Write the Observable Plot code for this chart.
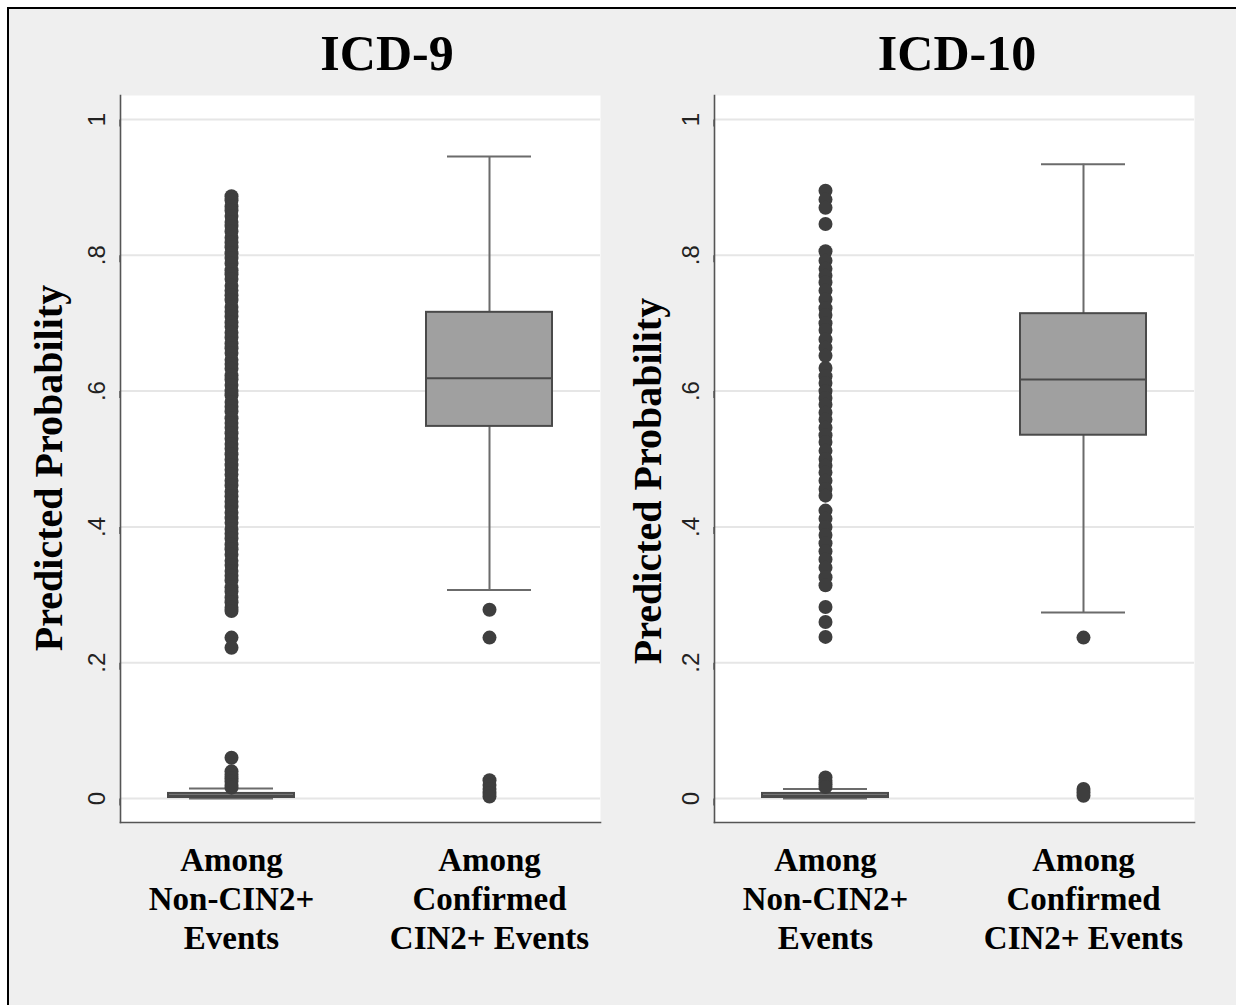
<!DOCTYPE html>
<html>
<head>
<meta charset="utf-8">
<script src="https://cdn.jsdelivr.net/npm/d3@7"></script>
<script src="https://cdn.jsdelivr.net/npm/@observablehq/plot@0.6"></script>
<style>
  html, body { margin: 0; padding: 0; background: #fff; }
  #page { position: relative; width: 1236px; height: 1005px; overflow: hidden; background: #fff; }
  #frame { position: absolute; left: 7px; top: 7px; width: 1260px; height: 1030px;
           border-left: 2px solid #000; border-top: 2px solid #000; background: #efefef; box-sizing: border-box; }
  .panel { position: absolute; top: 0; }
  .title { position: absolute; top: 28px; width: 400px; margin-left: -200px; text-align: center;
           font-family: "Liberation Serif", "Times New Roman", serif; font-weight: bold; font-size: 50px; line-height: 50px; color: #000; }
</style>
</head>
<body>
<div id="page">
  <div id="frame"></div>
</div>
<script>
// ---- data ----
const panelTitles = ["ICD-9", "ICD-10"];
const categories = ["Among Non-CIN2+ Events", "Among Confirmed CIN2+ Events"];
const categoryLabels = ["Among\nNon-CIN2+\nEvents", "Among\nConfirmed\nCIN2+ Events"];
const yTicks = [0, 0.2, 0.4, 0.6, 0.8, 1];
const yTickLabels = ["0", ".2", ".4", ".6", ".8", "1"];
const yLabel = "Predicted Probability";

// ICD-9 box statistics [Non-CIN2+, CIN2+]
const icd9LowerAdj = [0.0, 0.307];
const icd9Q1 = [0.0015, 0.548];
const icd9Median = [0.0045, 0.619];
const icd9Q3 = [0.0075, 0.716];
const icd9UpperAdj = [0.0147, 0.9455];
// ICD-9 outside values
const icd9OutsideNon = [0.887, 0.881, 0.872, 0.866, 0.858, 0.849, 0.843, 0.835, 0.826, 0.819, 0.812, 0.803,
  0.796, 0.788, 0.778, 0.772, 0.765, 0.755, 0.748, 0.741, 0.734, 0.724, 0.717, 0.71, 0.701, 0.695, 0.686,
  0.679, 0.67, 0.663, 0.656, 0.646, 0.64, 0.633, 0.623, 0.617, 0.609, 0.6, 0.594, 0.584, 0.577, 0.57,
  0.56, 0.553, 0.546, 0.538, 0.53, 0.522, 0.515, 0.507, 0.499, 0.491, 0.484, 0.477, 0.468, 0.461, 0.452,
  0.445, 0.437, 0.43, 0.421, 0.413, 0.406, 0.397, 0.39, 0.383, 0.374, 0.367, 0.359, 0.35, 0.344, 0.335,
  0.328, 0.321, 0.311, 0.305, 0.296, 0.289, 0.281, 0.276, 0.237, 0.222,
  0.06, 0.04, 0.035, 0.03, 0.025, 0.02, 0.016];
const icd9OutsideCin = [0.278, 0.237, 0.027, 0.02, 0.014, 0.008, 0.003];

// ICD-10 box statistics [Non-CIN2+, CIN2+]
const icd10LowerAdj = [0.0, 0.274];
const icd10Q1 = [0.0015, 0.535];
const icd10Median = [0.0045, 0.617];
const icd10Q3 = [0.0075, 0.714];
const icd10UpperAdj = [0.014, 0.934];
// ICD-10 outside values
const icd10OutsideNon = [0.895, 0.882, 0.87, 0.846, 0.806, 0.792, 0.78, 0.77, 0.76, 0.748, 0.735, 0.722,
  0.712, 0.7, 0.69, 0.676, 0.664, 0.652, 0.634, 0.622, 0.612, 0.6, 0.59, 0.58, 0.568, 0.558, 0.546,
  0.535, 0.525, 0.512, 0.5, 0.49, 0.48, 0.468, 0.456, 0.446, 0.424, 0.412, 0.4, 0.388, 0.376, 0.364,
  0.352, 0.34, 0.326, 0.314, 0.282, 0.26, 0.238,
  0.031, 0.026, 0.021, 0.017];
const icd10OutsideCin = [0.237, 0.014, 0.009, 0.004];

// ---- helpers ----
function boxTable(lo, q1, med, q3, hi) {
  return categories.map((c, i) => ({cat: c, lo: lo[i], q1: q1[i], med: med[i], q3: q3[i], hi: hi[i]}));
}
function outTable(non, cin) {
  return non.map(v => ({cat: categories[0], v})).concat(cin.map(v => ({cat: categories[1], v})));
}

const W = 618, H = 1000;
const serif = "'Liberation Serif', 'Times New Roman', serif";
const sans = "'Liberation Sans', Arial, Helvetica, sans-serif";

function makePanel(boxes, outs, labelOffset, labelShift) {
  const svg = Plot.plot({
    width: W, height: H,
    marginLeft: 120, marginRight: 18, marginTop: 95, marginBottom: 178,
    style: {background: "transparent", overflow: "visible", color: "#111"},
    x: {type: "band", domain: categories, paddingInner: 0.5135, paddingOuter: 0.1834, axis: null},
    y: {domain: [-0.0353, 1.0353], axis: null},
    marks: [
      Plot.frame({fill: "white", stroke: null}),
      Plot.gridY(yTicks, {stroke: "#e6e6e6", strokeOpacity: 1, strokeWidth: 2}),
      Plot.frame({anchor: "left", stroke: "#555", strokeWidth: 1.6}),
      Plot.frame({anchor: "bottom", stroke: "#555", strokeWidth: 1.6}),
      Plot.axisY({ticks: yTicks, tickFormat: d => yTickLabels[yTicks.indexOf(d)],
        tickSize: 7, tickPadding: 16, rotate: -90, textAnchor: "middle", lineAnchor: "middle",
        fontSize: 24, fontFamily: sans, stroke: "#555", strokeWidth: 1.4, fill: "#222", label: null}),
      Plot.axisY({ticks: [], tickSize: 0, label: yLabel, labelAnchor: "center", labelArrow: "none",
        labelOffset: labelOffset, fontSize: 40, fontWeight: "bold", fontFamily: serif, fill: "#000"}),
      Plot.axisX({tickSize: 0, tickPadding: 21, tickFormat: d => categoryLabels[categories.indexOf(d)],
        lineAnchor: "top", lineHeight: 1.18, fontSize: 33, fontWeight: "bold", fontFamily: serif, fill: "#000", label: null}),
      Plot.ruleX(boxes, {x: "cat", y1: "lo", y2: "hi", stroke: "#6b6b6b", strokeWidth: 2}),
      Plot.tickY(boxes, {x: "cat", y: "lo", insetLeft: 21, insetRight: 21, stroke: "#6b6b6b", strokeWidth: 2}),
      Plot.tickY(boxes, {x: "cat", y: "hi", insetLeft: 21, insetRight: 21, stroke: "#6b6b6b", strokeWidth: 2}),
      Plot.barY(boxes, {x: "cat", y1: "q1", y2: "q3", fill: "#a0a0a0", stroke: "#4a4a4a", strokeWidth: 2}),
      Plot.tickY(boxes, {x: "cat", y: "med", stroke: "#4a4a4a", strokeWidth: 2}),
      Plot.dot(outs, {x: "cat", y: "v", r: 7, fill: "#3e3e3e", stroke: null})
    ]
  });
  // nudge the axis title along the axis to match the reference placement
  const lab = svg.querySelector('g[aria-label="y-axis label"]');
  if (lab) {
    const prev = lab.getAttribute("transform") || "";
    lab.setAttribute("transform", `translate(0,${labelShift}) ${prev}`);
  }
  return svg;
}

const page = document.getElementById("page");
const panels = [
  makePanel(boxTable(icd9LowerAdj, icd9Q1, icd9Median, icd9Q3, icd9UpperAdj), outTable(icd9OutsideNon, icd9OutsideCin), 87, 9),
  makePanel(boxTable(icd10LowerAdj, icd10Q1, icd10Median, icd10Q3, icd10UpperAdj), outTable(icd10OutsideNon, icd10OutsideCin), 82, 22)
];
const lefts = [0, 594];
const titleCenters = [387, 957];
panels.forEach((svg, i) => {
  svg.classList.add("panel");
  svg.style.left = lefts[i] + "px";
  svg.style.top = "0px";
  svg.style.position = "absolute";
  page.appendChild(svg);
  const t = document.createElement("div");
  t.className = "title";
  t.textContent = panelTitles[i];
  t.style.left = titleCenters[i] + "px";
  page.appendChild(t);
});
</script>
</body>
</html>
